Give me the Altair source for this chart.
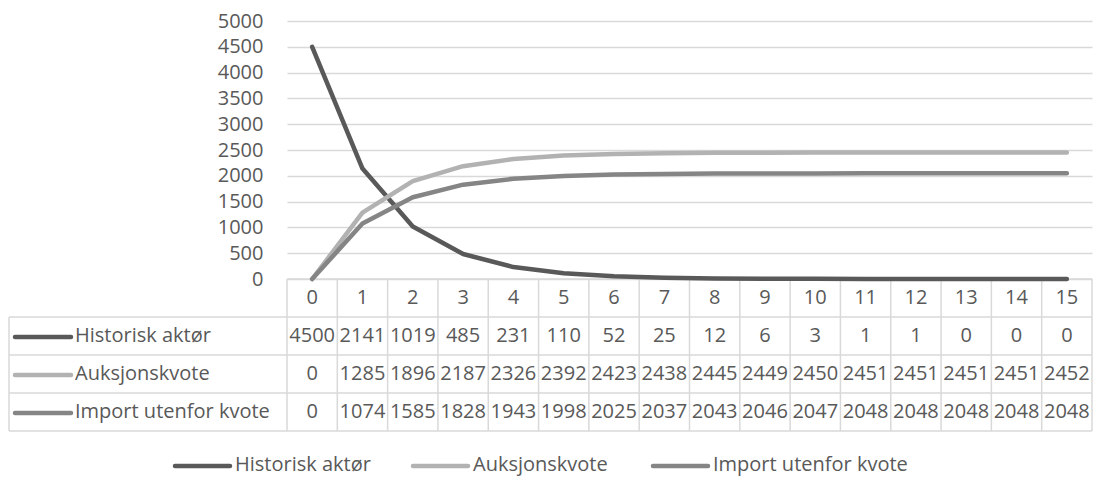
import altair as alt
import pandas as pd

steps = list(range(16))
series_names = ["Historisk aktør", "Auksjonskvote", "Import utenfor kvote"]
historisk = [4500, 2141, 1019, 485, 231, 110, 52, 25, 12, 6, 3, 1, 1, 0, 0, 0]
auksjon = [0, 1285, 1896, 2187, 2326, 2392, 2423, 2438, 2445, 2449, 2450, 2451, 2451, 2451, 2451, 2452]
importk = [0, 1074, 1585, 1828, 1943, 1998, 2025, 2037, 2043, 2046, 2047, 2048, 2048, 2048, 2048, 2048]
series_values = [historisk, auksjon, importk]
y_ticks = list(range(0, 5001, 500))

colors = ["#595959", "#b2b2b2", "#858585"]
TEXT = "#595959"
GRID = "#d9d9d9"
FONT = "Open Sans"
FS = 20

W, H = 805, 258

rows = []
for name, vals in zip(series_names, series_values):
    for s, v in zip(steps, vals):
        rows.append({"step": s, "series": name, "value": v})
df = pd.DataFrame(rows)
steps_df = pd.DataFrame({"step": steps})
bounds_df = pd.DataFrame({"b": [s - 0.5 for s in steps] + [steps[-1] + 0.5]})
one = pd.DataFrame({"k": [0]})

xscale = alt.Scale(domain=[steps[0] - 0.5, steps[-1] + 0.5], nice=False, zero=False)
yscale = alt.Scale(domain=[0, 5000], nice=False)
yaxis = alt.Axis(
    values=y_ticks, format="d", grid=True, gridColor=GRID, gridWidth=1.5,
    ticks=False, domain=False, labelFont=FONT, labelFontSize=FS,
    labelOverlap=False, labelColor=TEXT, labelPadding=24, title=None)

layers = []

# table grid: vertical boundaries
layers.append(
    alt.Chart(bounds_df).mark_rule(color=GRID, strokeWidth=1.5).encode(
        x=alt.X("b:Q", scale=xscale, axis=None),
        y=alt.value(H), y2=alt.value(410),
    )
)
# left border and horizontal lines
layers.append(
    alt.Chart(one).mark_rule(color=GRID, strokeWidth=1.5).encode(
        x=alt.value(-278), y=alt.value(296), y2=alt.value(410)))
for yy in [296, 334, 372, 410]:
    layers.append(
        alt.Chart(one).mark_rule(color=GRID, strokeWidth=1.5).encode(
            x=alt.value(-278), x2=alt.value(W), y=alt.value(yy)))
layers.append(
    alt.Chart(one).mark_rule(color=GRID, strokeWidth=1.5).encode(
        x=alt.value(0), x2=alt.value(W), y=alt.value(H)))

# lines
for name, c in zip(series_names, colors):
    layers.append(
        alt.Chart(df[df.series == name]).mark_line(
            color=c, strokeWidth=4.5, strokeCap="round", strokeJoin="round").encode(
            x=alt.X("step:Q", scale=xscale, axis=None),
            y=alt.Y("value:Q", scale=yscale, axis=yaxis),
        )
    )

# header row
layers.append(
    alt.Chart(steps_df).mark_text(font=FONT, fontSize=FS, color=TEXT, baseline="middle", align="center").encode(
        x=alt.X("step:Q", scale=xscale, axis=None),
        y=alt.value(277),
        text="step:Q",
    )
)

# table rows
for i, (name, c) in enumerate(zip(series_names, colors)):
    cy = 315 + 38 * i
    layers.append(
        alt.Chart(df[df.series == name]).mark_text(font=FONT, fontSize=FS, color=TEXT, baseline="middle", align="center").encode(
            x=alt.X("step:Q", scale=xscale, axis=None),
            y=alt.value(cy),
            text="value:Q",
        )
    )
    layers.append(
        alt.Chart(one).mark_rule(color=c, strokeWidth=4.5, strokeCap="round").encode(
            x=alt.value(-272), x2=alt.value(-216), y=alt.value(cy + 1)))
    layers.append(
        alt.Chart(pd.DataFrame({"t": [name]})).mark_text(font=FONT, fontSize=FS, color=TEXT, baseline="middle", align="left").encode(
            x=alt.value(-212), y=alt.value(cy), text="t:N"))

# legend
leg_x = [-112, 126, 366]
for name, c, lx in zip(series_names, colors, leg_x):
    layers.append(
        alt.Chart(one).mark_rule(color=c, strokeWidth=4.5, strokeCap="round").encode(
            x=alt.value(lx), x2=alt.value(lx + 55), y=alt.value(445)))
    layers.append(
        alt.Chart(pd.DataFrame({"t": [name]})).mark_text(font=FONT, fontSize=FS, color=TEXT, baseline="middle", align="left").encode(
            x=alt.value(lx + 60), y=alt.value(444), text="t:N"))

chart = alt.layer(*layers).properties(
    width=W, height=H,
    autosize=alt.AutoSizeParams(type="none"),
    padding={"left": 287, "top": 21, "right": 2, "bottom": 198},
    background="white",
).configure_view(stroke=None).configure_axis(labelOverlap=False)

chart.save("out.html", embed_options={"renderer": "svg", "actions": False})
